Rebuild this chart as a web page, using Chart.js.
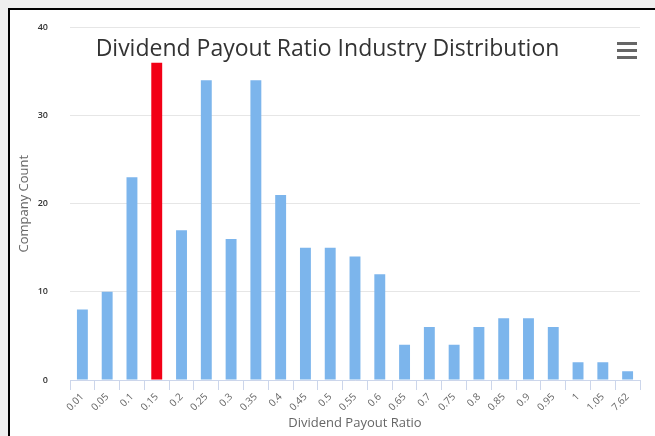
<!DOCTYPE html>
<html>
<head>
<meta charset="utf-8">
<script src="https://cdn.jsdelivr.net/npm/chart.js@4/dist/chart.umd.min.js"></script>
<style>
    body { margin: 0; background: #efefef; width: 655px; height: 436px; overflow: hidden; position: relative; font-family: "Open Sans", sans-serif; }
    #marco { position: absolute; left: 8px; top: 8px; width: 700px; height: 500px; border: 2px solid #000; background: #fff; }
    #grafica { position: absolute; left: 0; top: 0; }
    #titulo { position: absolute; left: 0; width: 655px; top: 32px; text-align: center; font-size: 23px; color: #333; line-height: 30px; }
    #menu { position: absolute; left: 617px; top: 42px; width: 20px; }
    #menu span { display: block; height: 3px; background: #666; margin-bottom: 4px; }
</style>
</head>
<body>
<div id="marco"></div>
<canvas id="grafica" width="655" height="436"></canvas>
<div id="titulo">Dividend Payout Ratio Industry Distribution</div>
<div id="menu"><span></span><span></span><span></span></div>
<script>
    const ratios = ["0.01", "0.05", "0.1", "0.15", "0.2", "0.25", "0.3", "0.35", "0.4", "0.45", "0.5", "0.55", "0.6", "0.65", "0.7", "0.75", "0.8", "0.85", "0.9", "0.95", "1", "1.05", "7.62"];
    const empresas = [8, 10, 23, 36, 17, 34, 16, 34, 21, 15, 15, 14, 12, 4, 6, 4, 6, 7, 7, 6, 2, 2, 1];
    const destacado = "0.15";

    const azul = "#7cb5ec";
    const rojo = "#f20016";

    const colores = ratios.map((r) => (r === destacado ? rojo : azul));

    const ctx = document.getElementById("grafica");
    const grafica = new Chart(ctx, {
        type: "bar",
        data: {
            labels: ratios,
            datasets: [
                {
                    label: "Company Count",
                    data: empresas,
                    backgroundColor: colores,
                    barPercentage: 0.44,
                    categoryPercentage: 1,
                },
            ],
        },
        options: {
            responsive: false,
            devicePixelRatio: 1,
            animation: false,
            layout: {
                padding: { top: 26, right: 15, bottom: 0, left: 0 },
            },
            plugins: {
                legend: { display: false },
                tooltip: { enabled: false },
            },
            scales: {
                x: {
                    afterFit: (escala) => { escala.height = 56; },
                    grid: { display: true, drawOnChartArea: false, tickLength: 10, color: "#ccd6eb" },
                    border: { color: "#ccd6eb" },
                    ticks: {
                        autoSkip: false,
                        maxRotation: 45,
                        minRotation: 45,
                        padding: 1,
                        color: "#666",
                        font: { family: "Open Sans", size: 10 },
                    },
                    title: {
                        display: true,
                        text: "Dividend Payout Ratio",
                        color: "#666",
                        font: { family: "Open Sans", size: 13 },
                        padding: { top: 0, bottom: 5 },
                    },
                },
                y: {
                    min: 0,
                    max: 40,
                    afterFit: (escala) => { escala.width = 70; },
                    grid: { color: "#e6e6e6", drawTicks: false },
                    border: { display: false },
                    ticks: {
                        stepSize: 10,
                        padding: 22,
                        color: "#333",
                        font: { family: "Open Sans", size: 9, weight: "600" },
                    },
                    title: {
                        display: true,
                        text: "Company Count",
                        color: "#666",
                        font: { family: "Open Sans", size: 13 },
                        padding: { top: 16, bottom: 0 },
                    },
                },
            },
        },
    });
</script>
</body>
</html>
